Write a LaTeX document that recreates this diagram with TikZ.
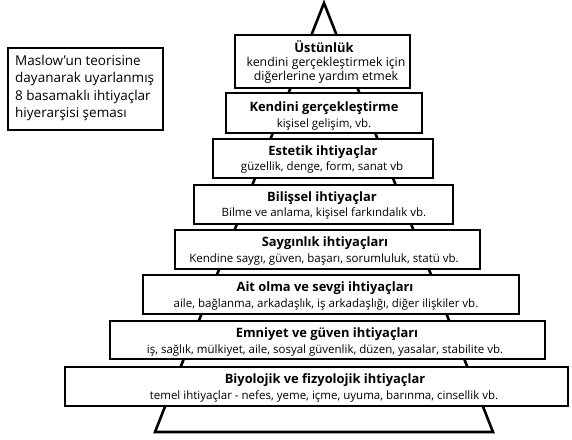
\documentclass[tikz,border=0pt]{standalone}
\usepackage{fontspec}
\setmainfont{Open Sans}
\begin{document}
\begin{tikzpicture}[x=1pt,y=-1pt,
  boxst/.style={draw=black,fill=white,line width=1.8pt},
  tri/.style={draw=black,line width=2.6pt,line join=miter},
  ttl/.style={anchor=base,inner sep=0pt,font=\fontsize{12.9}{12.9}\selectfont\bfseries},
  sub/.style={anchor=base,inner sep=0pt,font=\fontsize{11.5}{11.5}\selectfont},
  big/.style={anchor=base,inner sep=0pt,font=\fontsize{12.3}{12.3}\selectfont},
  note/.style={anchor=base west,inner sep=0pt,font=\fontsize{13.5}{13.5}\selectfont}]
\useasboundingbox[fill=white] (0,0) rectangle (572,439);
% pyramid
\draw[tri] (324,3) -- (493,432) -- (155,432) -- cycle;
% boxes
\draw[boxst] (235,35) rectangle (410,88);
\draw[boxst] (226,93) rectangle (422,133);
\draw[boxst] (213,139) rectangle (433,178);
\draw[boxst] (194,185) rectangle (453,224);
\draw[boxst] (175,230) rectangle (480,269);
\draw[boxst] (143,275) rectangle (519,314);
\draw[boxst] (110,321) rectangle (545,359);
\draw[boxst] (65,367) rectangle (568,406);
% texts
\node[ttl] (t1) at (324,52) {Üstünlük};
\node[big] (s1a) at (326,66) {kendini gerçekleştirmek için};
\node[big] (s1b) at (326,80) {diğerlerine yardım etmek};
\node[ttl] (t2) at (324,111) {Kendini gerçekleştirme};
\node[sub] (s2) at (324,127) {kişisel gelişim, vb.};
\node[ttl] (t3) at (323,155) {Estetik ihtiyaçlar};
\node[sub] (s3) at (322,170) {güzellik, denge, form, sanat vb};
\node[ttl] (t4) at (322,201) {Bilişsel ihtiyaçlar};
\node[sub] (s4) at (324,216) {Bilme ve anlama, kişisel farkındalık vb.};
\node[ttl] (t5) at (325,246) {Saygınlık ihtiyaçları};
\node[sub] (s5) at (324,262) {Kendine saygı, güven, başarı, sorumluluk, statü vb.};
\node[ttl] (t6) at (325,291) {Ait olma ve sevgi ihtiyaçları};
\node[sub] (s6) at (326,307) {aile, bağlanma, arkadaşlık, iş arkadaşlığı, diğer ilişkiler vb.};
\node[ttl] (t7) at (327,337) {Emniyet ve güven ihtiyaçları};
\node[sub] (s7) at (325,353) {iş, sağlık, mülkiyet, aile, sosyal güvenlik, düzen, yasalar, stabilite vb.};
\node[ttl] (t8) at (325,383) {Biyolojik ve fizyolojik ihtiyaçlar};
\node[sub] (s8) at (324,399) {temel ihtiyaçlar - nefes, yeme, içme, uyuma, barınma, cinsellik vb.};
% side note
\draw[boxst] (8,48) rectangle (163,130);
\node[note] (n1) at (15,65) {Maslow’un teorisine};
\node[note] (n2) at (15,82) {dayanarak uyarlanmış};
\node[note] (n3) at (15,100) {8 basamaklı ihtiyaçlar};
\node[note] (n4) at (15,117) {hiyerarşisi şeması};
\end{tikzpicture}
\end{document}
